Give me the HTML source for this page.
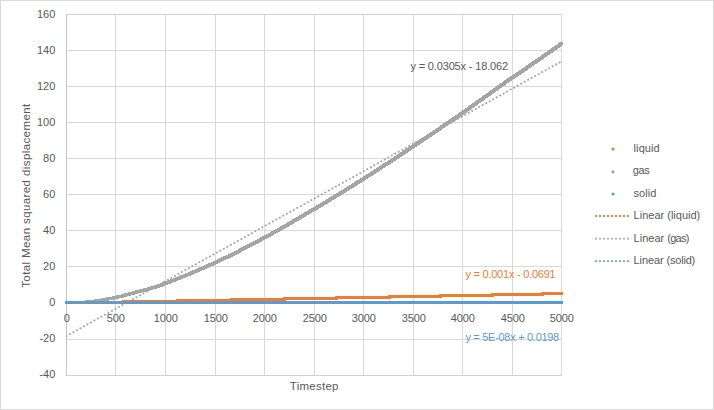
<!DOCTYPE html>
<html><head><meta charset="utf-8"><title>chart</title>
<style>html,body{margin:0;padding:0;background:#fff;}svg{display:block;}text{font-family:"Liberation Sans",sans-serif;}</style>
</head><body>
<svg width="714" height="410" viewBox="0 0 714 410">
<rect x="0" y="0" width="714" height="410" fill="#fff"/>
<rect x="0.5" y="0.5" width="713" height="409" fill="none" stroke="#D9D9D9" stroke-width="1"/>
<g stroke="#D9D9D9" stroke-width="1" shape-rendering="crispEdges">
<line x1="66.5" y1="14" x2="66.5" y2="376"/>
<line x1="115.5" y1="14" x2="115.5" y2="376"/>
<line x1="165.5" y1="14" x2="165.5" y2="376"/>
<line x1="215.5" y1="14" x2="215.5" y2="376"/>
<line x1="264.5" y1="14" x2="264.5" y2="376"/>
<line x1="314.5" y1="14" x2="314.5" y2="376"/>
<line x1="363.5" y1="14" x2="363.5" y2="376"/>
<line x1="413.5" y1="14" x2="413.5" y2="376"/>
<line x1="462.5" y1="14" x2="462.5" y2="376"/>
<line x1="512.5" y1="14" x2="512.5" y2="376"/>
<line x1="561.5" y1="14" x2="561.5" y2="376"/>
<line x1="66" y1="14.5" x2="562" y2="14.5"/>
<line x1="66" y1="50.5" x2="562" y2="50.5"/>
<line x1="66" y1="86.5" x2="562" y2="86.5"/>
<line x1="66" y1="122.5" x2="562" y2="122.5"/>
<line x1="66" y1="158.5" x2="562" y2="158.5"/>
<line x1="66" y1="194.5" x2="562" y2="194.5"/>
<line x1="66" y1="230.5" x2="562" y2="230.5"/>
<line x1="66" y1="266.5" x2="562" y2="266.5"/>
<line x1="66" y1="302.5" x2="562" y2="302.5"/>
<line x1="66" y1="339.5" x2="562" y2="339.5"/>
<line x1="66" y1="375.5" x2="562" y2="375.5"/>
<line x1="66.5" y1="14" x2="66.5" y2="376" stroke="#C4C4C4"/>
<line x1="66" y1="14.5" x2="562" y2="14.5" stroke="#D0D0D0"/>
<line x1="66" y1="375.5" x2="562" y2="375.5" stroke="#D2D2D2"/>
</g>
<path d="M65 301h60v3h-60zM122 300h57v3h-57zM176 299h57v3h-57zM230 298h56v3h-56zM283 297h55v3h-55zM335 296h56v3h-56zM388 295h54v3h-54zM439 294h55v3h-55zM491 293h53v3h-53zM541 292h22v3h-22z" fill="#ED7D31" shape-rendering="crispEdges"/>
<polygon points="65.0,301.10 66.0,301.10 67.0,301.09 68.0,301.08 69.0,301.07 70.0,301.05 71.0,301.03 72.0,301.01 73.0,300.99 74.0,300.96 75.0,300.93 76.0,300.89 77.0,300.86 78.0,300.82 79.0,300.78 80.0,300.74 81.0,300.69 82.0,300.65 83.0,300.60 84.0,300.55 85.0,300.50 86.0,300.44 87.0,300.36 88.0,300.26 89.0,300.14 90.0,300.02 91.0,299.89 92.0,299.76 93.0,299.63 94.0,299.50 95.0,299.37 96.0,299.24 97.0,299.10 98.0,298.96 99.0,298.81 100.0,298.66 101.0,298.50 102.0,298.33 103.0,298.15 104.0,297.96 105.0,297.76 106.0,297.57 107.0,297.39 108.0,297.22 109.0,297.05 110.0,296.87 111.0,296.69 112.0,296.50 113.0,296.29 114.0,296.08 115.0,295.85 116.0,295.62 117.0,295.38 118.0,295.14 119.0,294.89 120.0,294.63 121.0,294.38 122.0,294.12 123.0,293.85 124.0,293.58 125.0,293.31 126.0,293.04 127.0,292.77 128.0,292.49 129.0,292.22 130.0,291.95 131.0,291.67 132.0,291.40 133.0,291.13 134.0,290.87 135.0,290.60 136.0,290.34 137.0,290.08 138.0,289.82 139.0,289.57 140.0,289.31 141.0,289.05 142.0,288.80 143.0,288.54 144.0,288.28 145.0,288.01 146.0,287.75 147.0,287.48 148.0,287.20 149.0,286.93 150.0,286.64 151.0,286.35 152.0,286.06 153.0,285.75 154.0,285.44 155.0,285.12 156.0,284.79 157.0,284.45 158.0,284.10 159.0,283.75 160.0,283.39 161.0,283.02 162.0,282.65 163.0,282.28 164.0,281.90 165.0,281.52 166.0,281.14 167.0,280.76 168.0,280.38 169.0,280.00 170.0,279.61 171.0,279.22 172.0,278.84 173.0,278.44 174.0,278.05 175.0,277.66 176.0,277.26 177.0,276.86 178.0,276.46 179.0,276.06 180.0,275.66 181.0,275.25 182.0,274.84 183.0,274.43 184.0,274.02 185.0,273.61 186.0,273.20 187.0,272.78 188.0,272.36 189.0,271.95 190.0,271.52 191.0,271.10 192.0,270.68 193.0,270.25 194.0,269.83 195.0,269.40 196.0,268.97 197.0,268.53 198.0,268.10 199.0,267.67 200.0,267.23 201.0,266.79 202.0,266.35 203.0,265.91 204.0,265.47 205.0,265.02 206.0,264.57 207.0,264.13 208.0,263.68 209.0,263.23 210.0,262.77 211.0,262.32 212.0,261.87 213.0,261.41 214.0,260.95 215.0,260.49 216.0,260.03 217.0,259.56 218.0,259.09 219.0,258.62 220.0,258.15 221.0,257.67 222.0,257.20 223.0,256.72 224.0,256.23 225.0,255.75 226.0,255.26 227.0,254.77 228.0,254.28 229.0,253.79 230.0,253.29 231.0,252.80 232.0,252.30 233.0,251.80 234.0,251.30 235.0,250.79 236.0,250.28 237.0,249.78 238.0,249.27 239.0,248.76 240.0,248.24 241.0,247.73 242.0,247.21 243.0,246.69 244.0,246.18 245.0,245.65 246.0,245.13 247.0,244.61 248.0,244.09 249.0,243.56 250.0,243.03 251.0,242.51 252.0,241.98 253.0,241.45 254.0,240.92 255.0,240.38 256.0,239.85 257.0,239.32 258.0,238.78 259.0,238.25 260.0,237.71 261.0,237.18 262.0,236.64 263.0,236.10 264.0,235.56 265.0,235.02 266.0,234.48 267.0,233.93 268.0,233.38 269.0,232.83 270.0,232.28 271.0,231.73 272.0,231.17 273.0,230.62 274.0,230.06 275.0,229.50 276.0,228.94 277.0,228.38 278.0,227.81 279.0,227.25 280.0,226.68 281.0,226.11 282.0,225.54 283.0,224.97 284.0,224.39 285.0,223.82 286.0,223.25 287.0,222.67 288.0,222.09 289.0,221.51 290.0,220.93 291.0,220.35 292.0,219.77 293.0,219.19 294.0,218.60 295.0,218.02 296.0,217.43 297.0,216.85 298.0,216.26 299.0,215.67 300.0,215.09 301.0,214.50 302.0,213.91 303.0,213.32 304.0,212.73 305.0,212.14 306.0,211.55 307.0,210.96 308.0,210.36 309.0,209.77 310.0,209.18 311.0,208.59 312.0,207.99 313.0,207.40 314.0,206.81 315.0,206.21 316.0,205.62 317.0,205.02 318.0,204.42 319.0,203.83 320.0,203.23 321.0,202.63 322.0,202.03 323.0,201.43 324.0,200.83 325.0,200.22 326.0,199.62 327.0,199.02 328.0,198.41 329.0,197.81 330.0,197.20 331.0,196.59 332.0,195.98 333.0,195.37 334.0,194.76 335.0,194.15 336.0,193.54 337.0,192.93 338.0,192.32 339.0,191.70 340.0,191.09 341.0,190.47 342.0,189.85 343.0,189.24 344.0,188.62 345.0,188.00 346.0,187.38 347.0,186.76 348.0,186.14 349.0,185.51 350.0,184.89 351.0,184.27 352.0,183.64 353.0,183.02 354.0,182.39 355.0,181.76 356.0,181.14 357.0,180.51 358.0,179.88 359.0,179.25 360.0,178.62 361.0,177.98 362.0,177.35 363.0,176.72 364.0,176.08 365.0,175.44 366.0,174.81 367.0,174.17 368.0,173.53 369.0,172.89 370.0,172.24 371.0,171.60 372.0,170.96 373.0,170.31 374.0,169.66 375.0,169.02 376.0,168.37 377.0,167.72 378.0,167.07 379.0,166.42 380.0,165.76 381.0,165.11 382.0,164.46 383.0,163.80 384.0,163.15 385.0,162.49 386.0,161.83 387.0,161.18 388.0,160.52 389.0,159.86 390.0,159.20 391.0,158.54 392.0,157.88 393.0,157.22 394.0,156.56 395.0,155.90 396.0,155.23 397.0,154.57 398.0,153.91 399.0,153.24 400.0,152.58 401.0,151.92 402.0,151.25 403.0,150.59 404.0,149.92 405.0,149.26 406.0,148.59 407.0,147.93 408.0,147.26 409.0,146.60 410.0,145.93 411.0,145.27 412.0,144.60 413.0,143.93 414.0,143.27 415.0,142.60 416.0,141.94 417.0,141.27 418.0,140.60 419.0,139.93 420.0,139.27 421.0,138.60 422.0,137.93 423.0,137.26 424.0,136.59 425.0,135.92 426.0,135.25 427.0,134.58 428.0,133.91 429.0,133.24 430.0,132.57 431.0,131.90 432.0,131.23 433.0,130.55 434.0,129.88 435.0,129.20 436.0,128.53 437.0,127.86 438.0,127.18 439.0,126.50 440.0,125.83 441.0,125.15 442.0,124.47 443.0,123.79 444.0,123.11 445.0,122.43 446.0,121.75 447.0,121.07 448.0,120.39 449.0,119.71 450.0,119.02 451.0,118.34 452.0,117.65 453.0,116.97 454.0,116.28 455.0,115.59 456.0,114.90 457.0,114.21 458.0,113.53 459.0,112.83 460.0,112.14 461.0,111.45 462.0,110.76 463.0,110.06 464.0,109.36 465.0,108.66 466.0,107.96 467.0,107.25 468.0,106.55 469.0,105.84 470.0,105.13 471.0,104.42 472.0,103.71 473.0,103.00 474.0,102.28 475.0,101.57 476.0,100.85 477.0,100.14 478.0,99.42 479.0,98.70 480.0,97.98 481.0,97.26 482.0,96.54 483.0,95.82 484.0,95.10 485.0,94.38 486.0,93.66 487.0,92.94 488.0,92.22 489.0,91.50 490.0,90.78 491.0,90.07 492.0,89.35 493.0,88.63 494.0,87.91 495.0,87.20 496.0,86.48 497.0,85.77 498.0,85.06 499.0,84.34 500.0,83.63 501.0,82.92 502.0,82.22 503.0,81.51 504.0,80.81 505.0,80.10 506.0,79.40 507.0,78.70 508.0,78.01 509.0,77.31 510.0,76.62 511.0,75.93 512.0,75.24 513.0,74.56 514.0,73.88 515.0,73.21 516.0,72.54 517.0,71.87 518.0,71.20 519.0,70.53 520.0,69.86 521.0,69.20 522.0,68.53 523.0,67.86 524.0,67.19 525.0,66.52 526.0,65.84 527.0,65.17 528.0,64.48 529.0,63.80 530.0,63.11 531.0,62.42 532.0,61.73 533.0,61.04 534.0,60.35 535.0,59.66 536.0,58.97 537.0,58.27 538.0,57.58 539.0,56.88 540.0,56.19 541.0,55.49 542.0,54.79 543.0,54.09 544.0,53.39 545.0,52.68 546.0,51.98 547.0,51.27 548.0,50.57 549.0,49.86 550.0,49.15 551.0,48.44 552.0,47.73 553.0,47.02 554.0,46.31 555.0,45.59 556.0,44.88 557.0,44.16 558.0,43.44 559.0,42.72 560.0,42.00 563.0,42.00 563.0,45.00 562.0,45.72 561.0,46.44 560.0,47.16 559.0,47.88 558.0,48.59 557.0,49.31 556.0,50.02 555.0,50.73 554.0,51.44 553.0,52.15 552.0,52.86 551.0,53.57 550.0,54.27 549.0,54.98 548.0,55.68 547.0,56.39 546.0,57.09 545.0,57.79 544.0,58.49 543.0,59.19 542.0,59.88 541.0,60.58 540.0,61.27 539.0,61.97 538.0,62.66 537.0,63.35 536.0,64.04 535.0,64.73 534.0,65.42 533.0,66.11 532.0,66.80 531.0,67.48 530.0,68.17 529.0,68.84 528.0,69.52 527.0,70.19 526.0,70.86 525.0,71.53 524.0,72.20 523.0,72.86 522.0,73.53 521.0,74.20 520.0,74.87 519.0,75.54 518.0,76.21 517.0,76.88 516.0,77.56 515.0,78.24 514.0,78.93 513.0,79.62 512.0,80.31 511.0,81.01 510.0,81.70 509.0,82.40 508.0,83.10 507.0,83.81 506.0,84.51 505.0,85.22 504.0,85.92 503.0,86.63 502.0,87.34 501.0,88.06 500.0,88.77 499.0,89.48 498.0,90.20 497.0,90.91 496.0,91.63 495.0,92.35 494.0,93.07 493.0,93.78 492.0,94.50 491.0,95.22 490.0,95.94 489.0,96.66 488.0,97.38 487.0,98.10 486.0,98.82 485.0,99.54 484.0,100.26 483.0,100.98 482.0,101.70 481.0,102.42 480.0,103.14 479.0,103.85 478.0,104.57 477.0,105.28 476.0,106.00 475.0,106.71 474.0,107.42 473.0,108.13 472.0,108.84 471.0,109.55 470.0,110.25 469.0,110.96 468.0,111.66 467.0,112.36 466.0,113.06 465.0,113.76 464.0,114.45 463.0,115.14 462.0,115.83 461.0,116.53 460.0,117.21 459.0,117.90 458.0,118.59 457.0,119.28 456.0,119.97 455.0,120.65 454.0,121.34 453.0,122.02 452.0,122.71 451.0,123.39 450.0,124.07 449.0,124.75 448.0,125.43 447.0,126.11 446.0,126.79 445.0,127.47 444.0,128.15 443.0,128.83 442.0,129.50 441.0,130.18 440.0,130.86 439.0,131.53 438.0,132.20 437.0,132.88 436.0,133.55 435.0,134.23 434.0,134.90 433.0,135.57 432.0,136.24 431.0,136.91 430.0,137.58 429.0,138.25 428.0,138.92 427.0,139.59 426.0,140.26 425.0,140.93 424.0,141.60 423.0,142.27 422.0,142.93 421.0,143.60 420.0,144.27 419.0,144.94 418.0,145.60 417.0,146.27 416.0,146.93 415.0,147.60 414.0,148.27 413.0,148.93 412.0,149.60 411.0,150.26 410.0,150.93 409.0,151.59 408.0,152.26 407.0,152.92 406.0,153.59 405.0,154.25 404.0,154.92 403.0,155.58 402.0,156.24 401.0,156.91 400.0,157.57 399.0,158.23 398.0,158.90 397.0,159.56 396.0,160.22 395.0,160.88 394.0,161.54 393.0,162.20 392.0,162.86 391.0,163.52 390.0,164.18 389.0,164.83 388.0,165.49 387.0,166.15 386.0,166.80 385.0,167.46 384.0,168.11 383.0,168.76 382.0,169.42 381.0,170.07 380.0,170.72 379.0,171.37 378.0,172.02 377.0,172.66 376.0,173.31 375.0,173.96 374.0,174.60 373.0,175.24 372.0,175.89 371.0,176.53 370.0,177.17 369.0,177.81 368.0,178.44 367.0,179.08 366.0,179.72 365.0,180.35 364.0,180.98 363.0,181.62 362.0,182.25 361.0,182.88 360.0,183.51 359.0,184.14 358.0,184.76 357.0,185.39 356.0,186.02 355.0,186.64 354.0,187.27 353.0,187.89 352.0,188.51 351.0,189.14 350.0,189.76 349.0,190.38 348.0,191.00 347.0,191.62 346.0,192.24 345.0,192.85 344.0,193.47 343.0,194.09 342.0,194.70 341.0,195.32 340.0,195.93 339.0,196.54 338.0,197.15 337.0,197.76 336.0,198.37 335.0,198.98 334.0,199.59 333.0,200.20 332.0,200.81 331.0,201.41 330.0,202.02 329.0,202.62 328.0,203.22 327.0,203.83 326.0,204.43 325.0,205.03 324.0,205.63 323.0,206.23 322.0,206.83 321.0,207.42 320.0,208.02 319.0,208.62 318.0,209.21 317.0,209.81 316.0,210.40 315.0,210.99 314.0,211.59 313.0,212.18 312.0,212.77 311.0,213.36 310.0,213.96 309.0,214.55 308.0,215.14 307.0,215.73 306.0,216.32 305.0,216.91 304.0,217.50 303.0,218.09 302.0,218.67 301.0,219.26 300.0,219.85 299.0,220.43 298.0,221.02 297.0,221.60 296.0,222.19 295.0,222.77 294.0,223.35 293.0,223.93 292.0,224.51 291.0,225.09 290.0,225.67 289.0,226.25 288.0,226.82 287.0,227.39 286.0,227.97 285.0,228.54 284.0,229.11 283.0,229.68 282.0,230.25 281.0,230.81 280.0,231.38 279.0,231.94 278.0,232.50 277.0,233.06 276.0,233.62 275.0,234.17 274.0,234.73 273.0,235.28 272.0,235.83 271.0,236.38 270.0,236.93 269.0,237.48 268.0,238.02 267.0,238.56 266.0,239.10 265.0,239.64 264.0,240.18 263.0,240.71 262.0,241.25 261.0,241.78 260.0,242.32 259.0,242.85 258.0,243.38 257.0,243.92 256.0,244.45 255.0,244.98 254.0,245.51 253.0,246.03 252.0,246.56 251.0,247.09 250.0,247.61 249.0,248.13 248.0,248.65 247.0,249.18 246.0,249.69 245.0,250.21 244.0,250.73 243.0,251.24 242.0,251.76 241.0,252.27 240.0,252.78 239.0,253.28 238.0,253.79 237.0,254.30 236.0,254.80 235.0,255.30 234.0,255.80 233.0,256.29 232.0,256.79 231.0,257.28 230.0,257.77 229.0,258.26 228.0,258.75 227.0,259.23 226.0,259.72 225.0,260.20 224.0,260.67 223.0,261.15 222.0,261.62 221.0,262.09 220.0,262.56 219.0,263.03 218.0,263.49 217.0,263.95 216.0,264.41 215.0,264.87 214.0,265.32 213.0,265.77 212.0,266.23 211.0,266.68 210.0,267.13 209.0,267.57 208.0,268.02 207.0,268.47 206.0,268.91 205.0,269.35 204.0,269.79 203.0,270.23 202.0,270.67 201.0,271.10 200.0,271.53 199.0,271.97 198.0,272.40 197.0,272.83 196.0,273.25 195.0,273.68 194.0,274.10 193.0,274.52 192.0,274.95 191.0,275.36 190.0,275.78 189.0,276.20 188.0,276.61 187.0,277.02 186.0,277.43 185.0,277.84 184.0,278.25 183.0,278.66 182.0,279.06 181.0,279.46 180.0,279.86 179.0,280.26 178.0,280.66 177.0,281.05 176.0,281.44 175.0,281.84 174.0,282.22 173.0,282.61 172.0,283.00 171.0,283.38 170.0,283.76 169.0,284.14 168.0,284.52 167.0,284.90 166.0,285.28 165.0,285.65 164.0,286.02 163.0,286.39 162.0,286.75 161.0,287.10 160.0,287.45 159.0,287.79 158.0,288.12 157.0,288.44 156.0,288.75 155.0,289.06 154.0,289.35 153.0,289.64 152.0,289.93 151.0,290.20 150.0,290.48 149.0,290.75 148.0,291.01 147.0,291.28 146.0,291.54 145.0,291.80 144.0,292.05 143.0,292.31 142.0,292.57 141.0,292.82 140.0,293.08 139.0,293.34 138.0,293.60 137.0,293.87 136.0,294.13 135.0,294.40 134.0,294.67 133.0,294.95 132.0,295.22 131.0,295.49 130.0,295.77 129.0,296.04 128.0,296.31 127.0,296.58 126.0,296.85 125.0,297.12 124.0,297.38 123.0,297.63 122.0,297.89 121.0,298.14 120.0,298.38 119.0,298.62 118.0,298.85 117.0,299.08 116.0,299.29 115.0,299.50 114.0,299.69 113.0,299.87 112.0,300.05 111.0,300.22 110.0,300.39 109.0,300.57 108.0,300.76 107.0,300.96 106.0,301.15 105.0,301.33 104.0,301.50 103.0,301.66 102.0,301.81 101.0,301.96 100.0,302.10 99.0,302.24 98.0,302.37 97.0,302.50 96.0,302.63 95.0,302.76 94.0,302.89 93.0,303.02 92.0,303.14 91.0,303.26 90.0,303.36 89.0,303.44 88.0,303.50 87.0,303.55 86.0,303.60 85.0,303.65 84.0,303.69 83.0,303.74 82.0,303.78 81.0,303.82 80.0,303.86 79.0,303.89 78.0,303.93 77.0,303.96 76.0,303.99 75.0,304.01 74.0,304.03 73.0,304.05 72.0,304.07 71.0,304.08 70.0,304.09 69.0,304.10 68.0,304.10 65.0,304.10" fill="#A5A5A5" shape-rendering="crispEdges"/>
<clipPath id="pc"><rect x="66" y="14" width="496" height="362"/></clipPath>
<line clip-path="url(#pc)" x1="65.63" y1="336.49" x2="561.50" y2="61.37" stroke="#A5A5A5" stroke-width="1.8" stroke-dasharray="1.9 2.1"/>
<rect x="65" y="301" width="498" height="3" fill="#5B9BD5" shape-rendering="crispEdges"/>
<g stroke="#ED7D31" stroke-width="1" stroke-opacity="0.6" shape-rendering="crispEdges">
<line x1="69" y1="302.5" x2="122" y2="302.5" stroke-dasharray="2 2"/>
<line x1="122" y1="301.5" x2="228" y2="301.5" stroke-dasharray="2 2"/>
</g>
<g fill="#595959" font-size="11" text-anchor="end">
<text x="55.3" y="18.2">160</text>
<text x="55.3" y="54.2">140</text>
<text x="55.3" y="90.2">120</text>
<text x="55.3" y="126.2">100</text>
<text x="55.3" y="162.2">80</text>
<text x="55.3" y="198.2">60</text>
<text x="55.3" y="234.2">40</text>
<text x="55.3" y="270.2">20</text>
<text x="55.3" y="306.2">0</text>
<text x="55.3" y="342.2">-20</text>
<text x="55.3" y="378.2">-40</text>
</g>
<g fill="#595959" font-size="11" letter-spacing="-0.1" text-anchor="middle">
<text x="66.8" y="322.2">0</text>
<text x="115.8" y="322.2">500</text>
<text x="165.8" y="322.2">1000</text>
<text x="215.8" y="322.2">1500</text>
<text x="264.8" y="322.2">2000</text>
<text x="314.8" y="322.2">2500</text>
<text x="363.8" y="322.2">3000</text>
<text x="413.8" y="322.2">3500</text>
<text x="462.8" y="322.2">4000</text>
<text x="512.8" y="322.2">4500</text>
<text x="561.8" y="322.2">5000</text>
</g>
<text id="xt" x="314.3" y="390" font-size="11.5" letter-spacing="0.25" fill="#595959" text-anchor="middle">Timestep</text>
<text id="yt" transform="translate(30,195.6) rotate(-90)" font-size="11.5" letter-spacing="0.4" fill="#595959" text-anchor="middle">Total Mean squared displacement</text>
<text id="e1" x="410.4" y="69.6" font-size="11" letter-spacing="-0.15" fill="#595959">y = 0.0305x - 18.062</text>
<text id="e2" x="465.4" y="277.8" font-size="11" letter-spacing="-0.23" fill="#ED7D31">y = 0.001x - 0.0691</text>
<text id="e3" x="465.4" y="340.8" font-size="11" letter-spacing="-0.29" fill="#5B9BD5">y = 5E-08x + 0.0198</text>
<circle cx="613" cy="149.1" r="1.6" fill="#ED7D31"/>
<text id="l0" x="633.6" y="152.0" font-size="11" letter-spacing="0.08" fill="#595959">liquid</text>
<circle cx="613" cy="171.8" r="1.6" fill="#A5A5A5"/>
<text id="l1" x="632.7" y="174.2" font-size="11" letter-spacing="-0.35" fill="#595959">gas</text>
<circle cx="613" cy="194.0" r="1.6" fill="#5B9BD5"/>
<text id="l2" x="633.4" y="196.7" font-size="11" letter-spacing="0.08" fill="#595959">solid</text>
<line x1="595" y1="216.0" x2="630" y2="216.0" stroke="#ED7D31" stroke-width="1.8" stroke-opacity="0.9" stroke-dasharray="2 2"/>
<text id="l3" x="633.6" y="218.9" font-size="11" letter-spacing="0" fill="#595959">Linear <tspan letter-spacing="0">(liquid)</tspan></text>
<line x1="595" y1="238.7" x2="630" y2="238.7" stroke="#A5A5A5" stroke-width="1.8" stroke-opacity="0.9" stroke-dasharray="2 2"/>
<text id="l4" x="633.6" y="241.6" font-size="11" letter-spacing="0" fill="#595959">Linear <tspan letter-spacing="-0.75">(gas)</tspan></text>
<line x1="595" y1="261.1" x2="630" y2="261.1" stroke="#5B9BD5" stroke-width="1.8" stroke-opacity="0.9" stroke-dasharray="2 2"/>
<text id="l5" x="633.6" y="264.0" font-size="11" letter-spacing="-0.1" fill="#595959">Linear <tspan letter-spacing="-0.2">(solid)</tspan></text>
</svg>
</body></html>
